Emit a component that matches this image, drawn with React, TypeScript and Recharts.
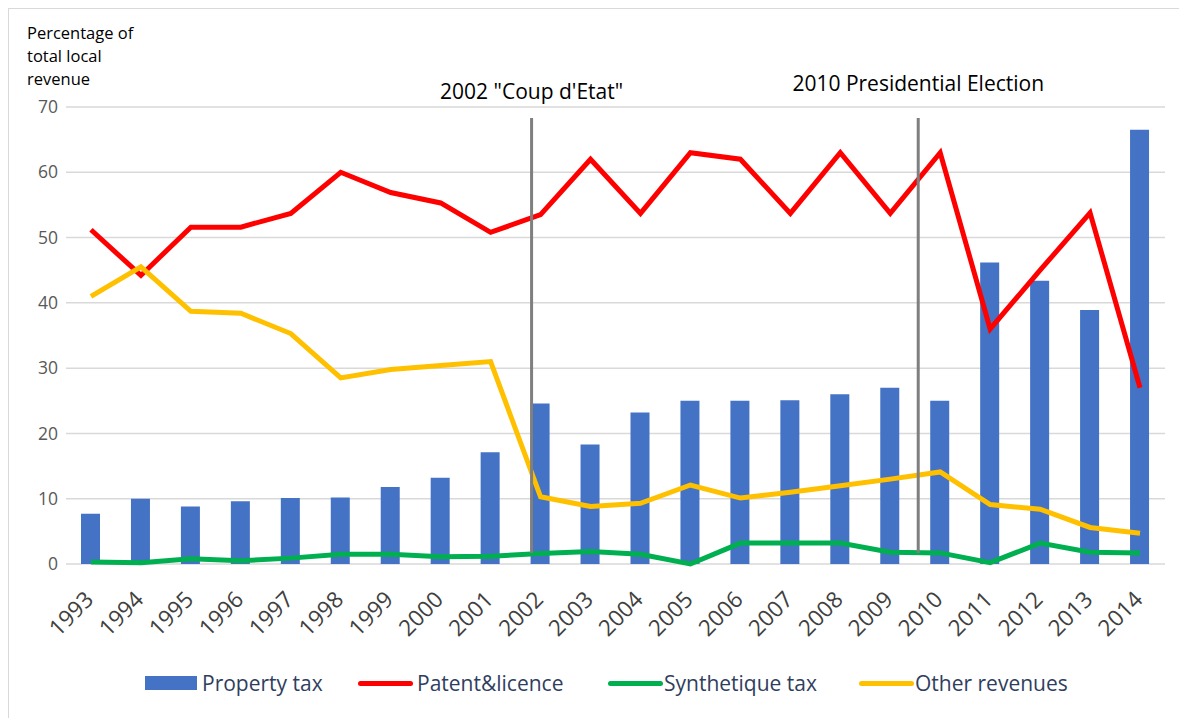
import React from 'react';
import { ComposedChart, Bar, Line, XAxis, YAxis, CartesianGrid, ReferenceLine } from 'recharts';

const years = ['1993', '1994', '1995', '1996', '1997', '1998', '1999', '2000', '2001', '2002', '2003', '2004', '2005', '2006', '2007', '2008', '2009', '2010', '2011', '2012', '2013', '2014'];
const propertyTax = [7.7, 10.0, 8.8, 9.6, 10.1, 10.2, 11.8, 13.2, 17.1, 24.6, 18.3, 23.2, 25.0, 25.0, 25.1, 26.0, 27.0, 25.0, 46.2, 43.4, 38.9, 66.5];
const patentLicence = [51.2, 44.2, 51.6, 51.6, 53.7, 60.0, 56.9, 55.3, 50.8, 53.5, 62.0, 53.7, 63.0, 62.0, 53.7, 63.0, 53.7, 63.0, 36.0, 45.0, 53.8, 27.0];
const synthetiqueTax = [0.3, 0.2, 0.8, 0.5, 0.9, 1.5, 1.5, 1.1, 1.2, 1.6, 1.9, 1.5, 0.0, 3.2, 3.2, 3.2, 1.8, 1.7, 0.2, 3.2, 1.8, 1.7];
const otherRevenues = [41.0, 45.5, 38.7, 38.4, 35.3, 28.5, 29.8, 30.4, 31.0, 10.3, 8.8, 9.3, 12.1, 10.1, 11.0, 12.0, 13.0, 14.1, 9.1, 8.4, 5.6, 4.7];
const yTicks = [0, 10, 20, 30, 40, 50, 60, 70];
const eventLabels = ['2002 "Coup d\'Etat"', '2010 Presidential Election'];
const eventPositions = [8.82, 16.56];
const eventRange = [1.7, 68.3];
const yTitleLines = ['Percentage of', 'total local', 'revenue'];

const data = years.map((year, i) => ({
  year,
  idx: i,
  property: propertyTax[i],
  patent: patentLicence[i],
  synth: synthetiqueTax[i],
  other: otherRevenues[i],
}));

const FONT = '"Open Sans", "Noto Sans", sans-serif';

const XTick = (props: any) => {
  const { x, y, payload } = props;
  const ax = x + 4;
  const ay = y + 37;
  return (
    <text x={ax} y={ay} textAnchor="end" fill="#404040" fontSize={22.5} fontFamily={FONT} transform={`rotate(-45, ${ax}, ${ay})`}>
      {payload.value}
    </text>
  );
};

const YTitle = () => (
  <g>
    {yTitleLines.map((t, i) => (
      <text key={i} x={18} y={30 + i * 23} fill="#000" fontSize={16.5} fontFamily={FONT}>{t}</text>
    ))}
  </g>
);

const legendItems = [
  { name: 'Property tax', color: '#4472C4', type: 'rect', left: 144, textLeft: 201 },
  { name: 'Patent&licence', color: '#FF0000', type: 'line', left: 357, textLeft: 416 },
  { name: 'Synthetique tax', color: '#00B050', type: 'line', left: 607, textLeft: 663 },
  { name: 'Other revenues', color: '#FFC000', type: 'line', left: 858, textLeft: 914 },
];

export default function App() {
  return (
    <div style={{ position: 'relative', width: 1179, height: 710, borderLeft: '1px solid #d9d9d9', borderTop: '1px solid #d9d9d9', fontFamily: FONT, overflow: 'hidden' }}>
      <ComposedChart width={1170} height={700} data={data} margin={{ top: 98, right: 14, left: 0, bottom: 65 }}>
        <CartesianGrid vertical={false} stroke="#D9D9D9" strokeWidth={1.5} />
        <XAxis dataKey="year" height={80} tickSize={0} tickMargin={0} axisLine={false} tickLine={false} interval={0} tick={<XTick />} />
        <XAxis xAxisId="n" dataKey="idx" type="number" domain={[-0.5, 21.5]} hide allowDataOverflow />
        <YAxis width={57} domain={[0, 70]} ticks={yTicks} axisLine={false} tickLine={false} tickSize={0} tickMargin={8}
          tick={{ fill: '#595959', fontSize: 17.5, fontFamily: FONT }}
          label={{ content: () => <YTitle /> }} />
        <Bar dataKey="property" name="Property tax" fill="#4472C4" barSize={19} isAnimationActive={false} />
        <Line dataKey="patent" name="Patent&licence" stroke="#FF0000" strokeWidth={5} dot={false} isAnimationActive={false} />
        <Line dataKey="synth" name="Synthetique tax" stroke="#00B050" strokeWidth={5} dot={false} isAnimationActive={false} />
        <Line dataKey="other" name="Other revenues" stroke="#FFC000" strokeWidth={5} dot={false} isAnimationActive={false} />
        {eventPositions.map((p, i) => (
          <ReferenceLine key={i} xAxisId="n" segment={[{ x: p, y: eventRange[0] }, { x: p, y: eventRange[1] }]} stroke="#7F7F7F" strokeWidth={3}
            label={{
              content: (lp: any) => {
                const vb = lp.viewBox || {};
                return (
                  <text x={vb.x} y={vb.y - (i === 0 ? 19 : 27)} textAnchor="middle" fill="#000" fontSize={21} fontFamily={FONT}>
                    {eventLabels[i]}
                  </text>
                );
              },
            }} />
        ))}
      </ComposedChart>
      {legendItems.map((it) => (
        <React.Fragment key={it.name}>
          <div style={{
            position: 'absolute', left: it.left - 8, top: it.type === 'rect' ? 675 - 8 : 680 - 8,
            width: it.type === 'rect' ? 52 : 55, height: it.type === 'rect' ? 14 : 5,
            background: it.color, borderRadius: it.type === 'rect' ? 0 : 3,
          }} />
          <div style={{ position: 'absolute', left: it.textLeft - 8, top: 667 - 8, fontSize: 21, lineHeight: '30px', color: '#2F3E5E', whiteSpace: 'nowrap' }}>
            {it.name}
          </div>
        </React.Fragment>
      ))}
    </div>
  );
}
